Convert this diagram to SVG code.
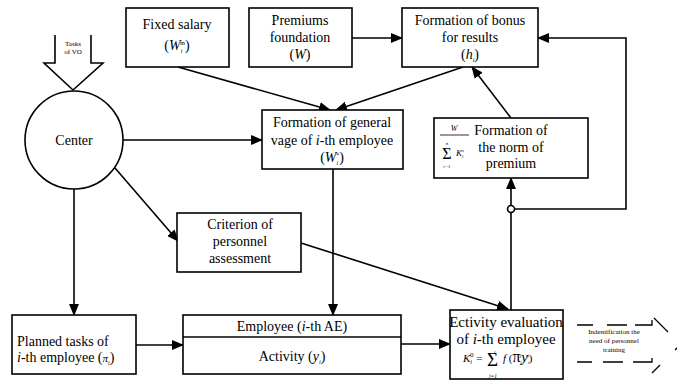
<svg xmlns="http://www.w3.org/2000/svg" width="677" height="382" viewBox="0 0 677 382" font-family="'Liberation Serif', 'DejaVu Serif', serif">
<style>
.box{fill:#fff;stroke:#000;stroke-width:1.6}
text{font-family:'Liberation Serif','DejaVu Serif',serif;fill:#000}
.t{font-size:14px}
.c{text-anchor:middle}
.it{font-style:italic}
.sm{font-size:7px}
.ln{fill:none;stroke:#000;stroke-width:1.6}
.dl{fill:none;stroke:#000;stroke-width:1.3}
</style>
<defs>
<marker id="ah" markerUnits="userSpaceOnUse" markerWidth="12" markerHeight="10" refX="11" refY="5" orient="auto">
<path d="M0,0 L12,5 L0,10 Z" fill="#000"/>
</marker>
</defs>
<rect width="677" height="382" fill="#fff"/>

<g id="connectors">
<line class="ln" x1="178" y1="67" x2="330" y2="110" marker-end="url(#ah)"/>
<line class="ln" x1="463" y1="67" x2="336" y2="110" marker-end="url(#ah)"/>
<line class="ln" x1="352" y1="38" x2="402" y2="38" marker-end="url(#ah)"/>
<line class="ln" x1="511" y1="118" x2="472" y2="67" marker-end="url(#ah)"/>
<polyline class="ln" points="514.5,209 626,209 626,38 538,38" marker-end="url(#ah)"/>
<line class="ln" x1="511" y1="310" x2="511" y2="178" marker-end="url(#ah)"/>
<line class="ln" x1="123" y1="140" x2="262" y2="140" marker-end="url(#ah)"/>
<line class="ln" x1="115" y1="168" x2="178" y2="241" marker-end="url(#ah)"/>
<line class="ln" x1="74" y1="189" x2="74" y2="315" marker-end="url(#ah)"/>
<line class="ln" x1="136" y1="345" x2="183" y2="345" marker-end="url(#ah)"/>
<line class="ln" x1="333" y1="169" x2="333" y2="315" marker-end="url(#ah)"/>
<line class="ln" x1="301" y1="243" x2="508" y2="309" marker-end="url(#ah)"/>
<line class="ln" x1="401" y1="344" x2="450" y2="344" marker-end="url(#ah)"/>
<circle cx="511" cy="209" r="3.5" fill="#fff" stroke="#000" stroke-width="1.6"/>
</g>

<g id="tasks-vo">
<path class="ln" d="M55,35 V63 H44 L73,90 L103,63 H91 V35" stroke-width="1.2"/>
<text class="c sm" x="73" y="46">Tasks</text>
<text class="c sm" x="73" y="54">of VO</text>
</g>

<g id="center">
<circle cx="74" cy="140" r="49" class="box"/>
<text class="t c" x="74" y="145">Center</text>
</g>

<g id="fixed-salary">
<rect class="box" x="126" y="8" width="103" height="59"/>
<text class="t c" x="177" y="29">Fixed salary</text>
<text class="t c" x="177" y="50">(<tspan class="it">W</tspan><tspan style="font-size:6px" dy="3" class="it">i</tspan><tspan style="font-size:6px" dy="-8" dx="-2">m</tspan><tspan dy="5">)</tspan></text>
</g>

<g id="premiums">
<rect class="box" x="249" y="8" width="103" height="59"/>
<text class="t c" x="300" y="25">Premiums</text>
<text class="t c" x="300" y="42">foundation</text>
<text class="t c" x="300" y="59">(<tspan class="it">W</tspan>)</text>
</g>

<g id="bonus">
<rect class="box" x="402" y="8" width="136" height="59"/>
<text class="t c" x="470" y="25">Formation of bonus</text>
<text class="t c" x="470" y="42">for results</text>
<text class="t c" x="470" y="59">(<tspan class="it">h</tspan><tspan style="font-size:6px" dy="3" class="it">i</tspan><tspan dy="-3">)</tspan></text>
</g>

<g id="general-wage">
<rect class="box" x="262" y="110" width="141" height="59"/>
<text class="t c" x="332" y="127">Formation of general</text>
<text class="t c" x="332" y="145">vage of  <tspan class="it">i</tspan>-th employee</text>
<text class="t c" x="332" y="162">(<tspan class="it">W</tspan><tspan style="font-size:6px" dy="3" class="it">i</tspan><tspan style="font-size:6px" dy="-8" dx="-2">*</tspan><tspan dy="5">)</tspan></text>
</g>

<g id="norm">
<rect class="box" x="434" y="118" width="154" height="60"/>
<text class="c it" x="454" y="131" style="font-size:8px">W</text>
<line x1="440" y1="135" x2="469" y2="135" stroke="#000" stroke-width="0.8"/>
<text class="c it" x="447" y="145" style="font-size:5px">n</text>
<text class="c" x="447" y="159" style="font-size:16px">Σ</text>
<text class="c it" x="447" y="168" style="font-size:5px">i=1</text>
<text class="it" x="456" y="156" style="font-size:9px">K<tspan style="font-size:5px" dy="2">i</tspan><tspan style="font-size:5px" dy="-6" dx="-2">o</tspan></text>
<text class="t c" x="511" y="135">Formation of</text>
<text class="t c" x="511" y="152">the norm of</text>
<text class="t c" x="511" y="168">premium</text>
</g>

<g id="criterion">
<rect class="box" x="177" y="213" width="124" height="59"/>
<text class="t c" x="240" y="229">Criterion of</text>
<text class="t c" x="240" y="246">personnel</text>
<text class="t c" x="240" y="263">assessment</text>
</g>

<g id="planned">
<rect class="box" x="12" y="315" width="124" height="59"/>
<text class="t" x="17" y="346">Planned tasks of</text>
<text class="t" x="17" y="362"><tspan class="it">i</tspan>-th employee  (<tspan class="it" style="font-size:11px">π</tspan><tspan style="font-size:6px" dy="3" class="it">i</tspan><tspan dy="-3">)</tspan></text>
</g>

<g id="employee">
<rect class="box" x="183" y="315" width="218" height="59"/>
<line x1="183" y1="337" x2="401" y2="337" stroke="#000" stroke-width="1.6"/>
<text class="t c" x="292" y="331">Employee (<tspan class="it">i</tspan>-th AE)</text>
<text class="t c" x="292" y="361">Activity  (<tspan class="it">y</tspan><tspan style="font-size:6px" dy="3" class="it">i</tspan><tspan dy="-3">)</tspan></text>
</g>

<g id="evaluation">
<rect class="box" x="450" y="310" width="113" height="69"/>
<text class="c" x="506" y="327" style="font-size:15px">Ectivity evaluation</text>
<text class="c" x="506" y="344" style="font-size:15px">of <tspan class="it">i</tspan>-th employee</text>
<text class="it" x="463" y="362" style="font-size:11px">K<tspan style="font-size:6px" dy="2">i</tspan><tspan style="font-size:7px;font-style:normal" dy="-7" dx="-2">0</tspan><tspan dy="5" style="font-style:normal;font-size:11px"> =</tspan></text>
<text x="487" y="366" style="font-size:19px">Σ</text>
<text class="it" x="494" y="353.5" style="font-size:5px">l</text>
<text class="it" x="489" y="377.5" style="font-size:5.5px">j=1</text>
<text class="it" x="503" y="362" style="font-size:11px">f<tspan style="font-style:normal"> (</tspan><tspan style="font-style:normal;font-size:16px">π</tspan><tspan style="font-size:5px" dy="2">i</tspan><tspan style="font-size:5px" dy="-7" dx="-2">j</tspan><tspan style="font-size:15px" dy="5">y</tspan><tspan style="font-size:5px" dy="2">i</tspan><tspan style="font-size:5px" dy="-7" dx="-2">j</tspan><tspan style="font-style:normal" dy="5">)</tspan></text>
</g>

<g id="training">
<path class="dl" d="M577,325 H593 M607,325 H627 M635,325 H652 V320 M654,318 L668,332 M675,350 L680,345 M652,373 L660,365 M577,362 H592 M603,362 H623 M633,362 H652 V358"/>
<text class="c sm" x="614" y="334" fill="#333">Indentification the</text>
<text class="c sm" x="614" y="343" fill="#333">need of personnel</text>
<text class="c sm" x="614" y="352" fill="#333">training</text>
</g>
</svg>
